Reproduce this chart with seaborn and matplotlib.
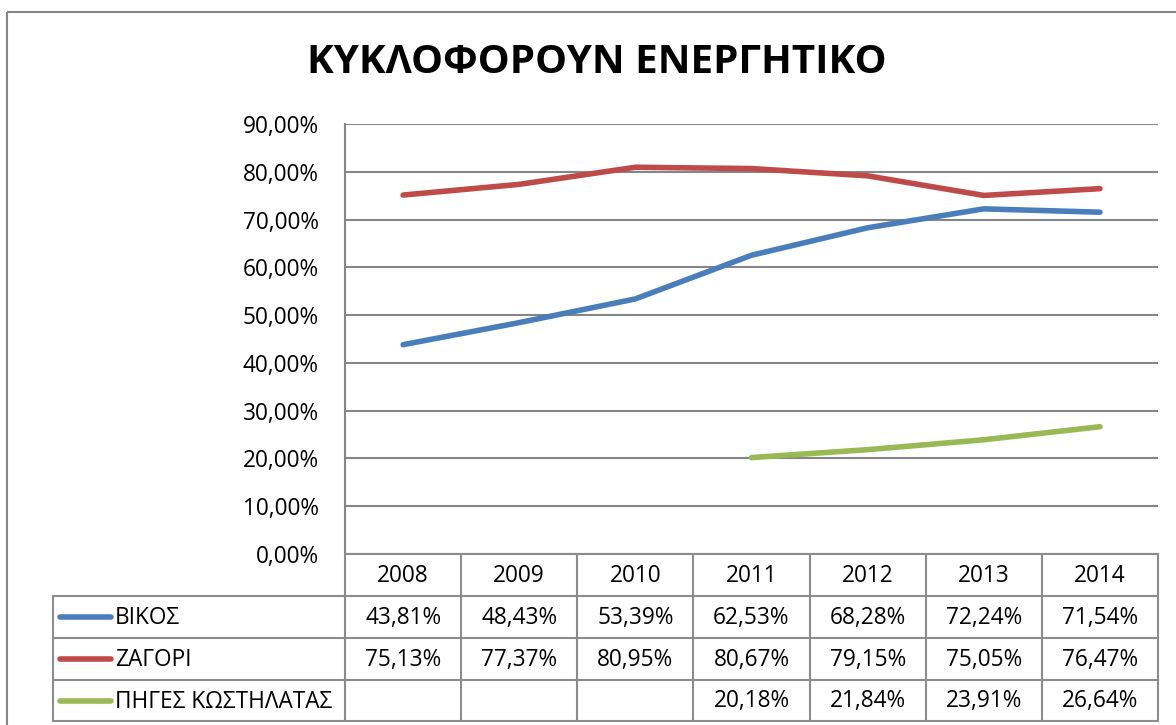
import numpy as np
import pandas as pd
import matplotlib
matplotlib.use("Agg")
import matplotlib.pyplot as plt
import seaborn as sns
from matplotlib.lines import Line2D
from matplotlib.patches import Rectangle

years = ["2008", "2009", "2010", "2011", "2012", "2013", "2014"]
series_names = ["ΒΙΚΟΣ", "ΖΑΓΟΡΙ", "ΠΗΓΕΣ ΚΩΣΤΗΛΑΤΑΣ"]
vikos = [43.81, 48.43, 53.39, 62.53, 68.28, 72.24, 71.54]
zagori = [75.13, 77.37, 80.95, 80.67, 79.15, 75.05, 76.47]
piges = [np.nan, np.nan, np.nan, 20.18, 21.84, 23.91, 26.64]
colors = ["#4A7EBB", "#BE4B48", "#98B954"]
title = "ΚΥΚΛΟΦΟΡΟΥΝ ΕΝΕΡΓΗΤΙΚΟ"
yticks = [0, 10, 20, 30, 40, 50, 60, 70, 80, 90]

sns.set_theme(style="white")
plt.rcParams['font.family'] = ['Open Sans', 'DejaVu Sans']
plt.rcParams['text.color'] = 'black'
plt.rcParams['ytick.color'] = 'black'

W, H = 1176, 725
fig = plt.figure(figsize=(W / 100, H / 100), dpi=100)

# pixel layout
L, R, T, B = 345, 1158, 124, 554
ax = fig.add_axes([L / W, 1 - B / H, (R - L) / W, (B - T) / H])

values = [vikos, zagori, piges]
rows = []
for name, vals in zip(series_names, values):
    for i, v in enumerate(vals):
        rows.append({"x": i, "year": years[i], "series": name, "value": v})
df = pd.DataFrame(rows).dropna()

sns.lineplot(data=df, x="x", y="value", hue="series", palette=colors,
             hue_order=series_names, estimator=None, sort=False,
             linewidth=4, legend=False, ax=ax, solid_capstyle="round")

fs = 16.3
ax.set_xlim(-0.5, len(years) - 0.5)
ax.set_ylim(0, 90)
ax.set_yticks(yticks)
ax.set_yticklabels([f"{t:.2f}%".replace(".", ",") for t in yticks], fontsize=fs, color="black")
ax.set_xticks([])
ax.set_xlabel("")
ax.set_ylabel("")
ax.tick_params(axis="y", length=0, pad=19)
grid_c = "#868686"
ax.yaxis.grid(True, color=grid_c, linewidth=1.5)
ax.set_axisbelow(True)
for s in ["top", "right", "bottom"]:
    ax.spines[s].set_visible(False)
ax.spines["left"].set_color(grid_c)
ax.spines["left"].set_linewidth(1.5)

# overlay in pixel coordinates
ov = fig.add_axes([0, 0, 1, 1], facecolor="none")
ov.set_xlim(0, W)
ov.set_ylim(H, 0)
ov.axis("off")

# outer frame
ov.add_patch(Rectangle((7, 12), 1200, 800, fill=False, edgecolor=grid_c, linewidth=1.5))

# title
ov.text(597, 62, title, ha="center", va="center", fontsize=29, fontweight="bold", color="black")

# table
tc = "#8c8c8c"
TL = 53
row_y = [554, 596, 638, 680, 721]
ncol = len(years)
cw = (R - L) / ncol
col_x = [L + i * cw for i in range(ncol + 1)]
lw = 1.5
ov.add_line(Line2D([L, R], [row_y[0], row_y[0]], color=tc, lw=lw))
for r in range(1, 5):
    ov.add_line(Line2D([TL, R], [row_y[r], row_y[r]], color=tc, lw=lw))
for i, x in enumerate(col_x):
    ov.add_line(Line2D([x, x], [row_y[0], row_y[4]], color=tc, lw=lw))
ov.add_line(Line2D([TL, TL], [row_y[1], row_y[4]], color=tc, lw=lw))

for i, yr in enumerate(years):
    ov.text((col_x[i] + col_x[i + 1]) / 2, (row_y[0] + row_y[1]) / 2 + 1, yr,
            ha="center", va="center", fontsize=fs)
for r, (name, vals, c) in enumerate(zip(series_names, values, colors)):
    yc = (row_y[r + 1] + row_y[r + 2]) / 2
    ov.add_line(Line2D([60, 111], [yc, yc], color=c, lw=4, solid_capstyle="round"))
    ov.text(115, yc + 1, name, ha="left", va="center", fontsize=fs)
    for i, v in enumerate(vals):
        if not np.isnan(v):
            ov.text((col_x[i] + col_x[i + 1]) / 2, yc + 1, f"{v:.2f}%".replace(".", ","),
                    ha="center", va="center", fontsize=fs)

fig.savefig("out.png", dpi=100)
